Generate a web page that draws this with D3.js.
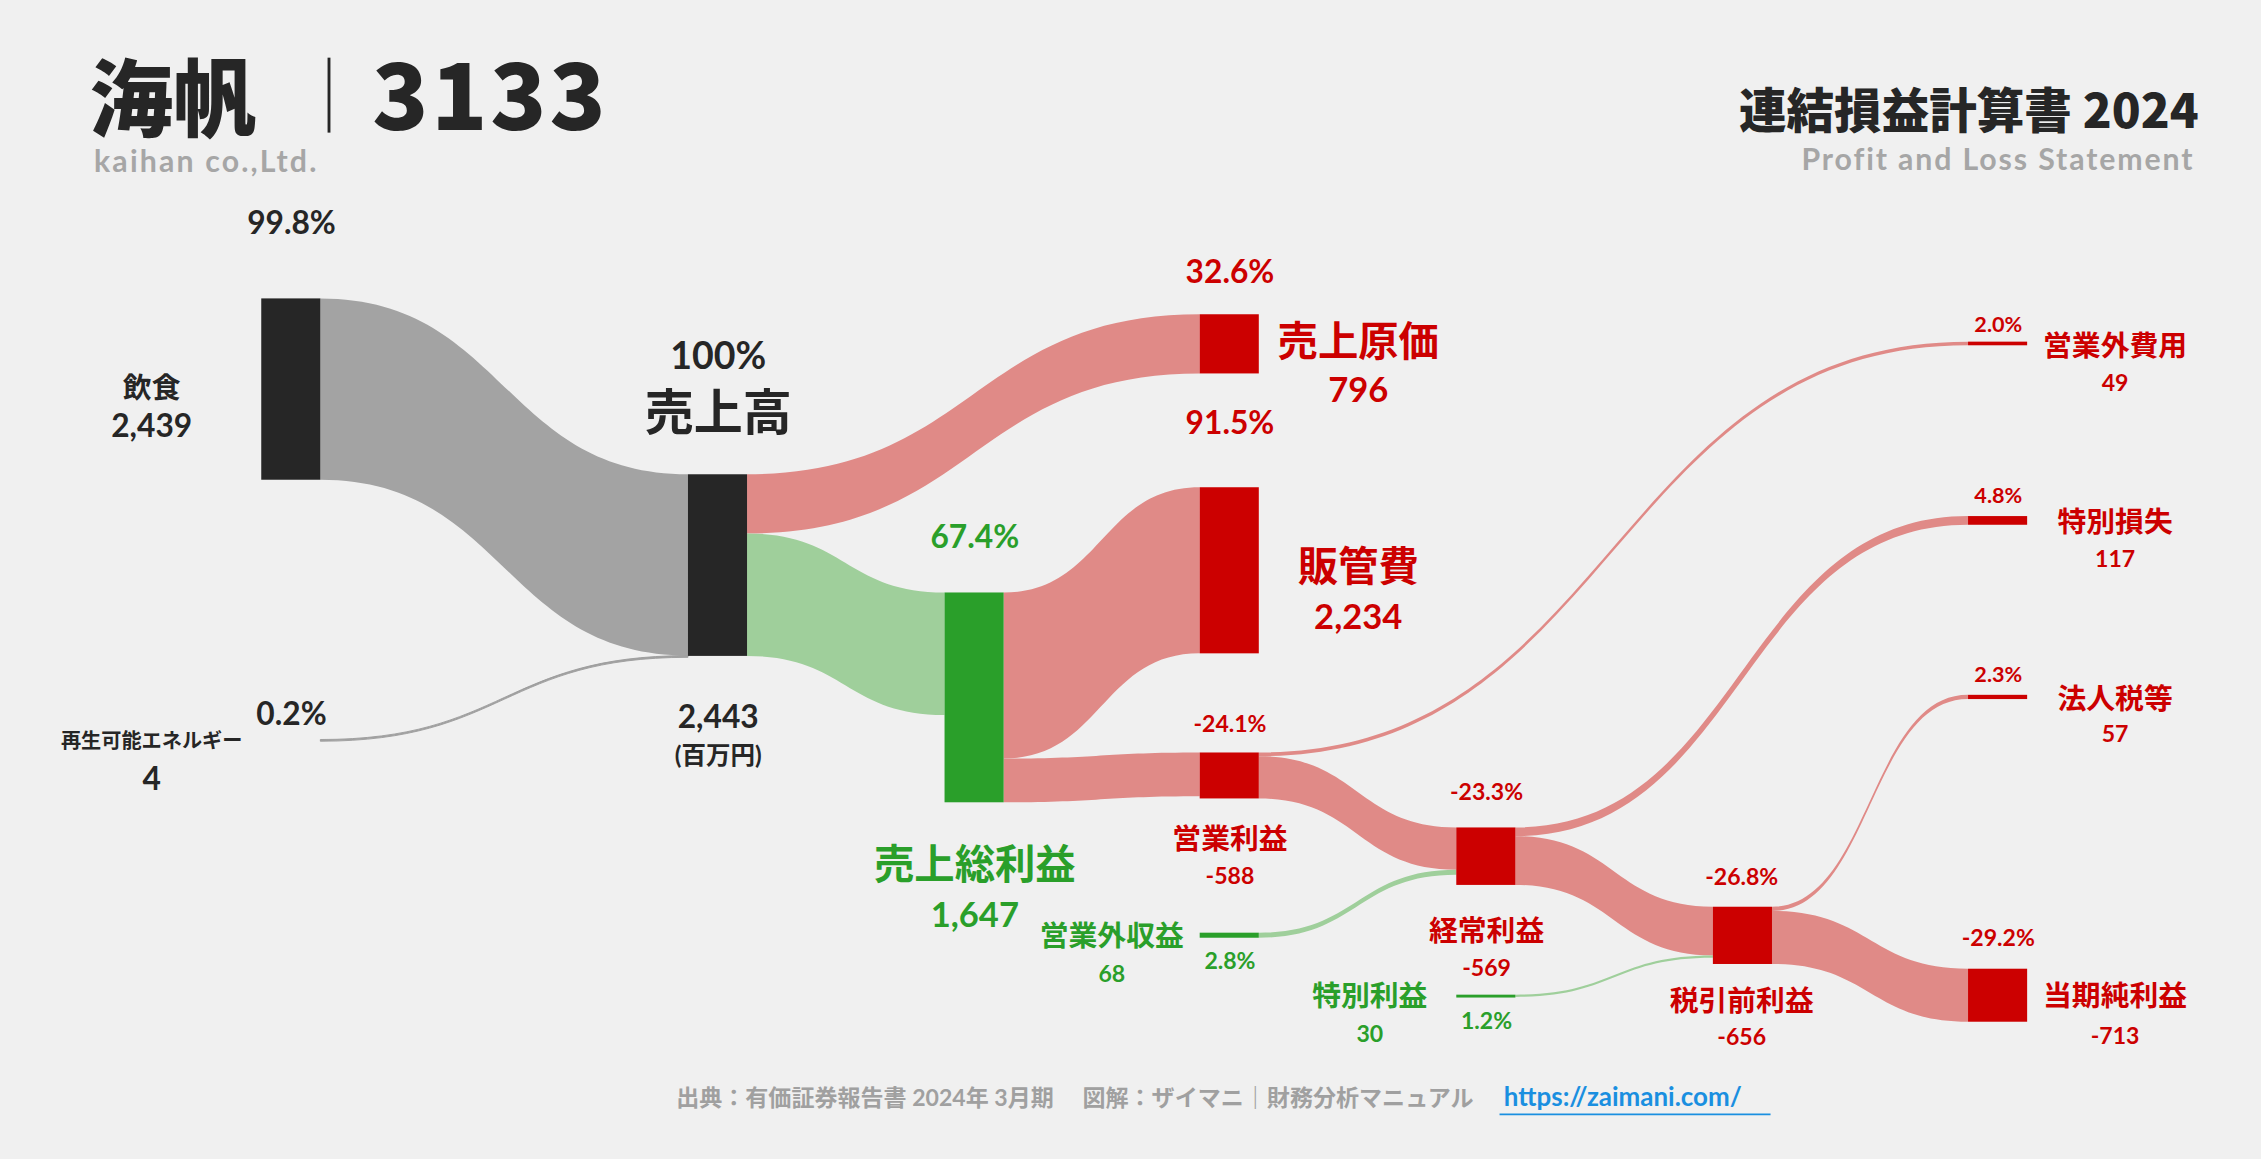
<!DOCTYPE html>
<html>
<head>
<meta charset="utf-8">
<script src="https://cdn.jsdelivr.net/npm/d3@7"></script>
<style>
  html, body { margin: 0; padding: 0; background: #f0f0f0; }
  text { font-family: Lato, "Noto Sans CJK JP", sans-serif; font-weight: 700; }
  .head { font-family: "Noto Sans CJK JP", sans-serif; font-weight: 900; }
</style>
</head>
<body>
<svg id="chart" width="2261" height="1159" viewBox="0 0 1568 804"></svg>
<script>
// Node list: id, value label, layout (x column, top)
const nodeIds = ["food", "energy", "sales", "cogs", "gross", "sga", "op", "nonOpExp", "nonOpInc", "ordinary", "extraLoss", "extraGain", "pretax", "tax", "net"];
const nodeKind = ["dark", "none", "dark", "red", "green", "red", "red", "redLine", "greenLine", "red", "redLine", "greenLine", "red", "redLine", "red"];
const nodeX = [181, 181, 477, 832, 655, 832, 832, 1365, 832, 1010, 1365, 1010, 1188, 1365, 1365];
const nodeTop = [207, 513, 329, 218, 411, 338, 522, 237, 647, 574, 358, 690, 629, 482, 672];

// Flows (百万円)
const linkSource = ["food", "energy", "sales", "sales", "gross", "gross", "op", "op", "nonOpInc", "ordinary", "ordinary", "extraGain", "pretax", "pretax"];
const linkTarget = ["sales", "sales", "cogs", "gross", "sga", "op", "nonOpExp", "ordinary", "ordinary", "extraLoss", "pretax", "pretax", "tax", "net"];
const linkValue = [2439, 4, 796, 1647, 2234, 588, 49, 569, 68, 117, 656, 30, 57, 713];
const linkKind = ["gray", "gray", "red", "green", "red", "red", "red", "red", "green", "red", "red", "green", "red", "red"];

const svg = d3.select("#chart");
const k = d3.scaleLinear().domain([0, 2443]).range([0, 126]);
const nodeW = 41;

const colors = {
  dark: "#262626", red: "#cc0000", green: "#2a9f2a", redLine: "#cc0000", greenLine: "#2a9f2a",
  gray: "#a3a3a3", redLink: "#e08a87", greenLink: "#9fcf9b"
};

const nodes = nodeIds.map((id, i) => ({ id, kind: nodeKind[i], x: nodeX[i], y: nodeTop[i], inV: 0, outV: 0 }));
const byId = Object.fromEntries(nodes.map(n => [n.id, n]));
const links = linkSource.map((s, i) => {
  const src = byId[s], tgt = byId[linkTarget[i]];
  const l = { src, tgt, value: linkValue[i], kind: linkKind[i], sy: src.outV, ty: tgt.inV };
  src.outV += l.value; tgt.inV += l.value;
  return l;
});
nodes.forEach(n => n.h = Math.max(k(Math.max(n.inV, n.outV)), 2));

function ribbon(l) {
  const x0 = l.src.x + nodeW, x1 = l.tgt.x;
  const y0 = l.src.y + k(l.sy), y1 = l.tgt.y + k(l.ty);
  const h = Math.max(k(l.value), 1.2);
  const xm = (x0 + x1) / 2;
  return `M${x0},${y0}C${xm},${y0} ${xm},${y1} ${x1},${y1}L${x1},${y1 + h}C${xm},${y1 + h} ${xm},${y0 + h} ${x0},${y0 + h}Z`;
}

svg.append("g").selectAll("path").data(links).join("path")
  .attr("d", ribbon)
  .attr("fill", d => d.kind === "gray" ? colors.gray : d.kind === "green" ? colors.greenLink : colors.redLink)
  .attr("stroke", d => d.kind === "gray" ? "#999" : "none")
  .attr("stroke-width", d => d.value < 10 ? 0.6 : 0);

svg.append("g").selectAll("rect").data(nodes.filter(n => n.kind !== "none")).join("rect")
  .attr("x", d => d.x).attr("y", d => d.y)
  .attr("width", nodeW).attr("height", d => d.h)
  .attr("fill", d => colors[d.kind]);

// labels
const labels = [
  ["99.8%", 202, 162, 22, "#262626"], ["飲食", 105, 276, 20, "#262626"], ["2,439", 105, 303, 22, "#262626"],
  ["0.2%", 202, 503, 22, "#262626"], ["再生可能エネルギー", 105, 519, 14, "#262626"], ["4", 105, 548, 22, "#262626"],
  ["100%", 498, 256, 26, "#262626"], ["売上高", 498, 298, 34, "#262626"], ["2,443", 498, 505, 22, "#262626"], ["(百万円)", 498, 530, 17, "#262626"],
  ["32.6%", 853, 196, 22, "#cc0000"], ["売上原価", 942, 247, 28, "#cc0000"], ["796", 942, 279, 24, "#cc0000"],
  ["91.5%", 853, 301, 22, "#cc0000"], ["販管費", 942, 403, 28, "#cc0000"], ["2,234", 942, 436, 24, "#cc0000"],
  ["67.4%", 676, 380, 22, "#2a9f2a"], ["売上総利益", 676, 610, 28, "#2a9f2a"], ["1,647", 676, 643, 24, "#2a9f2a"],
  ["-24.1%", 853, 508, 16, "#cc0000"], ["営業利益", 853, 589, 20, "#cc0000"], ["-588", 853, 613, 16, "#cc0000"],
  ["2.0%", 1386, 230, 15, "#cc0000"], ["営業外費用", 1467, 247, 20, "#cc0000"], ["49", 1467, 271, 16, "#cc0000"],
  ["4.8%", 1386, 349, 15, "#cc0000"], ["特別損失", 1467, 369, 20, "#cc0000"], ["117", 1467, 393, 16, "#cc0000"],
  ["2.3%", 1386, 473, 15, "#cc0000"], ["法人税等", 1467, 492, 20, "#cc0000"], ["57", 1467, 515, 16, "#cc0000"],
  ["-23.3%", 1031, 555, 16, "#cc0000"], ["経常利益", 1031, 653, 20, "#cc0000"], ["-569", 1031, 677, 16, "#cc0000"],
  ["-26.8%", 1208, 614, 16, "#cc0000"], ["税引前利益", 1208, 701, 20, "#cc0000"], ["-656", 1208, 725, 16, "#cc0000"],
  ["-29.2%", 1386, 656, 16, "#cc0000"], ["当期純利益", 1467, 698, 20, "#cc0000"], ["-713", 1467, 724, 16, "#cc0000"],
  ["営業外収益", 771, 656, 20, "#2a9f2a"], ["68", 771, 681, 16, "#2a9f2a"], ["2.8%", 853, 672, 16, "#2a9f2a"],
  ["特別利益", 950, 698, 20, "#2a9f2a"], ["30", 950, 723, 16, "#2a9f2a"], ["1.2%", 1031, 714, 16, "#2a9f2a"]
];
svg.append("g").selectAll("text").data(labels).join("text")
  .attr("x", d => d[1]).attr("y", d => d[2])
  .attr("font-size", d => d[3]).attr("fill", d => d[4])
  .attr("text-anchor", "middle").text(d => d[0]);

// header
svg.append("text").attr("class", "head").attr("x", 62).attr("y", 90).attr("font-size", 58).attr("fill", "#262626").text("海帆");
svg.append("line").attr("x1", 228).attr("x2", 228).attr("y1", 40).attr("y2", 92).attr("stroke", "#262626").attr("stroke-width", 2);
svg.append("text").attr("class", "head").attr("x", 258).attr("y", 90).attr("font-size", 64).attr("letter-spacing", 2).attr("fill", "#262626").text("3133");
svg.append("text").attr("x", 65).attr("y", 119).attr("font-size", 21).attr("letter-spacing", 1.5).attr("fill", "#a6a6a6").text("kaihan co.,Ltd.");
svg.append("text").attr("class", "head").attr("x", 1525).attr("y", 89).attr("font-size", 33).attr("fill", "#262626").attr("text-anchor", "end").text("連結損益計算書 2024");
svg.append("text").attr("x", 1522).attr("y", 118).attr("font-size", 21).attr("letter-spacing", 1.3).attr("fill", "#a6a6a6").attr("text-anchor", "end").text("Profit and Loss Statement");

// footer
svg.append("text").attr("x", 1022).attr("y", 767).attr("font-size", 16).attr("fill", "#a0a0a0").attr("text-anchor", "end")
  .text("出典：有価証券報告書 2024年 3月期　 図解：ザイマニ｜財務分析マニュアル");
svg.append("text").attr("x", 1043).attr("y", 767).attr("font-size", 18).attr("fill", "#1a8fe0").text("https://zaimani.com/");
svg.append("line").attr("x1", 1040).attr("x2", 1228).attr("y1", 773).attr("y2", 773).attr("stroke", "#1a8fe0").attr("stroke-width", 1.2);
</script>
</body>
</html>
